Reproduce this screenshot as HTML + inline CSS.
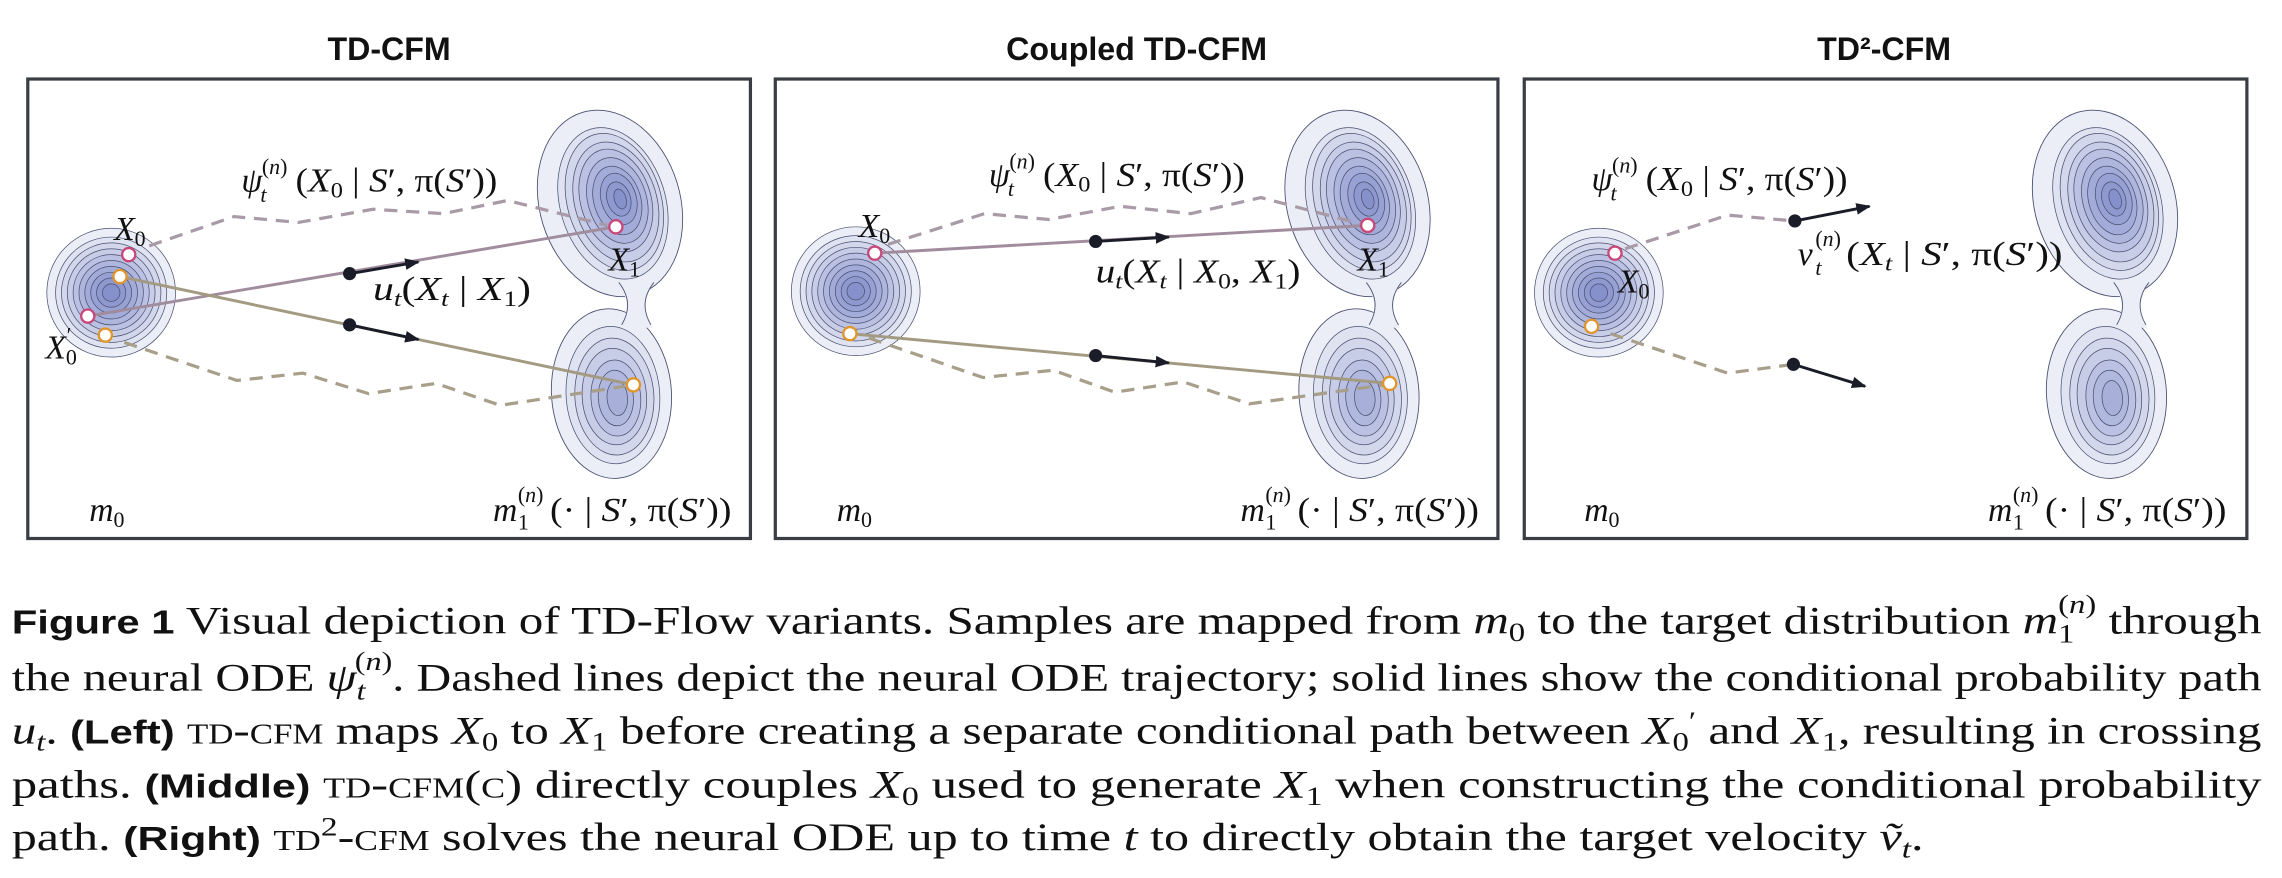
<!DOCTYPE html>
<html><head><meta charset="utf-8"><style>
html,body{margin:0;padding:0;background:#fff;}
svg{display:block}
.t{font-family:"Liberation Sans",sans-serif;font-weight:bold;font-size:22px;fill:#111;text-anchor:middle}
.m{font-family:"Liberation Serif",serif;font-size:23px;fill:#111}
.mi{font-style:italic}
.s{font-size:15px}
.c{font-family:"Liberation Serif",serif;font-size:27px;fill:#111}
.b{font-family:"Liberation Sans",sans-serif;font-weight:bold;font-size:23px}
.sc{font-variant:small-caps}
</style></head><body>
<svg width="2282" height="878" viewBox="0 0 1560 600" preserveAspectRatio="none" xmlns="http://www.w3.org/2000/svg">
<defs>
<marker id="ah" viewBox="0 0 10 10" refX="9" refY="5" markerWidth="5" markerHeight="5" orient="auto" markerUnits="strokeWidth"><path d="M0,1 L10,5 L0,9 Z" fill="#1a1d28"/></marker>
<g id="lb" stroke="#4a5070" stroke-width="0.5">
<circle r="44" fill="#eceef7"/><circle r="38" fill="#dfe2f0"/><circle r="34" fill="#d3d7ec"/><circle r="30" fill="#c7cce7"/><circle r="26" fill="#bbc1e2"/><circle r="22" fill="#afb6dd"/><circle r="18" fill="#a3abd8"/><circle r="14" fill="#98a1d3"/><circle r="10" fill="#8f98cf"/><circle r="6" fill="#8690cb"/>
</g>
<g id="rb" stroke="#4a5070" stroke-width="0.6">
<ellipse cx="417" cy="139" rx="48" ry="65" transform="rotate(-17 417 139)" fill="#eceef7"/>
<ellipse cx="418" cy="269" rx="41" ry="58" transform="rotate(-4 418 269)" fill="#eceef7"/>
<path d="M421,192 Q434,207 424,224 L446,224 Q436,207 448,192 Z" fill="#eceef7" stroke="none"/>
<path d="M423,193 Q434,207 425,222 M447,193 Q436,207 445,222" fill="none"/>
<g stroke-width="0.5">
<ellipse cx="419" cy="139" rx="36" ry="53" transform="rotate(-17 419 139)" fill="#dfe2f0"/>
<ellipse cx="420" cy="138" rx="32" ry="48" transform="rotate(-17 420 138)" fill="#d3d7ec"/>
<ellipse cx="421" cy="138" rx="28" ry="42" transform="rotate(-17 421 138)" fill="#c7cce7"/>
<ellipse cx="421" cy="137" rx="24" ry="36" transform="rotate(-17 421 137)" fill="#bbc1e2"/>
<ellipse cx="422" cy="137" rx="20" ry="30" transform="rotate(-17 422 137)" fill="#afb6dd"/>
<ellipse cx="422" cy="137" rx="16" ry="24" transform="rotate(-17 422 137)" fill="#a3abd8"/>
<ellipse cx="423" cy="136" rx="12" ry="18" transform="rotate(-17 423 136)" fill="#98a1d3"/>
<ellipse cx="423" cy="136" rx="8" ry="12" transform="rotate(-17 423 136)" fill="#8f98cf"/>
<ellipse cx="424" cy="136" rx="4" ry="7" transform="rotate(-17 424 136)" fill="#8690cb"/>
<ellipse cx="419" cy="270" rx="32" ry="47" transform="rotate(-4 419 270)" fill="#dfe2f0"/>
<ellipse cx="420" cy="271" rx="27" ry="40" transform="rotate(-4 420 271)" fill="#d3d7ec"/>
<ellipse cx="420" cy="271" rx="22" ry="33" transform="rotate(-4 420 271)" fill="#c7cce7"/>
<ellipse cx="421" cy="272" rx="17" ry="26" transform="rotate(-4 421 272)" fill="#bbc1e2"/>
<ellipse cx="421" cy="272" rx="12" ry="19" transform="rotate(-4 421 272)" fill="#b0b8de"/>
<ellipse cx="422" cy="272" rx="7" ry="12" transform="rotate(-4 422 272)" fill="#a8b0da"/>
</g>
</g>
<g id="psi">
<text class="m mi" x="165" y="131">ψ</text><text class="m s" x="179" y="119">(<tspan class="mi">n</tspan>)</text><text class="m s mi" x="178" y="138">t</text>
<text class="m" x="202" y="131" textLength="138" lengthAdjust="spacingAndGlyphs">(<tspan class="mi">X</tspan><tspan class="s" dy="4">0</tspan><tspan dy="-4"> | </tspan><tspan class="mi">S</tspan>′, π(<tspan class="mi">S</tspan>′))</text>
</g>
<g id="m1">
<text class="m mi" x="337" y="356">m</text><text class="m s" x="354" y="343">(<tspan class="mi">n</tspan>)</text><text class="m s" x="354" y="362">1</text>
<text class="m" x="376" y="356" textLength="124" lengthAdjust="spacingAndGlyphs">(· | <tspan class="mi">S</tspan>′, π(<tspan class="mi">S</tspan>′))</text>
</g>
</defs>

<text class="t" x="266" y="41">TD-CFM</text>
<text class="t" x="777" y="41">Coupled TD-CFM</text>
<text class="t" x="1288" y="41">TD²-CFM</text>

<g fill="#fff" stroke="#3a3d44" stroke-width="2.2">
<rect x="19" y="54" width="494" height="314"/>
<rect x="530" y="54" width="494" height="314"/>
<rect x="1042" y="54" width="494" height="314"/>
</g>

<!-- Panel 1 -->
<use href="#lb" transform="translate(76,200)"/>
<use href="#rb"/>
<polyline points="102,168 160,148 204,152 255,143 303,146 347,137 415,154" fill="none" stroke="#a89aa6" stroke-width="2.2" stroke-dasharray="9 6"/>
<polyline points="85,234 162,260 207,255 252,269 298,262 342,277 427,264" fill="none" stroke="#a89f8a" stroke-width="2.2" stroke-dasharray="9 6"/>
<line x1="60" y1="216" x2="421" y2="155" stroke="#a08c9c" stroke-width="2"/>
<line x1="82" y1="189" x2="433" y2="263" stroke="#a39a82" stroke-width="2"/>
<circle cx="239" cy="187" r="4.5" fill="#1a1d28"/><line x1="239" y1="187" x2="286" y2="179" stroke="#1a1d28" stroke-width="2" marker-end="url(#ah)"/>
<circle cx="239" cy="222" r="4.5" fill="#1a1d28"/><line x1="239" y1="222" x2="286" y2="232" stroke="#1a1d28" stroke-width="2" marker-end="url(#ah)"/>
<g fill="#fff" stroke-width="1.6">
<circle cx="88" cy="174" r="4.5" stroke="#c9487a"/><circle cx="82" cy="189" r="4.5" stroke="#e0962a"/>
<circle cx="60" cy="216" r="4.5" stroke="#c9487a"/><circle cx="72" cy="229" r="4.5" stroke="#e0962a"/>
<circle cx="421" cy="155" r="4.5" stroke="#c9487a"/><circle cx="433" cy="263" r="4.5" stroke="#e0962a"/>
</g>
<use href="#psi"/>
<text class="m" x="78" y="164"><tspan class="mi">X</tspan><tspan class="s" dy="4">0</tspan></text>
<text class="m" x="416" y="185"><tspan class="mi">X</tspan><tspan class="s" dy="4">1</tspan></text>
<text class="m" x="31" y="245"><tspan class="mi">X</tspan><tspan class="s" dy="4">0</tspan><tspan class="s" dx="-7" dy="-15">′</tspan></text>
<text class="m" x="255" y="205" textLength="108" lengthAdjust="spacingAndGlyphs"><tspan class="mi">u</tspan><tspan class="s mi" dy="4">t</tspan><tspan dy="-4">(</tspan><tspan class="mi">X</tspan><tspan class="s mi" dy="4">t</tspan><tspan dy="-4"> | </tspan><tspan class="mi">X</tspan><tspan class="s" dy="4">1</tspan><tspan dy="-4">)</tspan></text>
<text class="m" x="61" y="356"><tspan class="mi">m</tspan><tspan class="s" dy="4">0</tspan></text>
<use href="#m1"/>

<!-- Panel 2 -->
<use href="#lb" transform="translate(585,199)"/>
<use href="#rb" transform="translate(511,0)"/>
<polyline points="607,167 673,146 717,150 766,141 814,146 862,135 930,153" fill="none" stroke="#a89aa6" stroke-width="2.2" stroke-dasharray="9 6"/>
<polyline points="594,231 672,258 720,253 762,268 809,261 854,276 946,263" fill="none" stroke="#a89f8a" stroke-width="2.2" stroke-dasharray="9 6"/>
<line x1="598" y1="173" x2="935" y2="154" stroke="#a08c9c" stroke-width="2"/>
<line x1="581" y1="228" x2="950" y2="262" stroke="#a39a82" stroke-width="2"/>
<circle cx="749" cy="165" r="4.5" fill="#1a1d28"/><line x1="749" y1="165" x2="799" y2="162" stroke="#1a1d28" stroke-width="2" marker-end="url(#ah)"/>
<circle cx="749" cy="243" r="4.5" fill="#1a1d28"/><line x1="749" y1="243" x2="799" y2="248" stroke="#1a1d28" stroke-width="2" marker-end="url(#ah)"/>
<g fill="#fff" stroke-width="1.6">
<circle cx="598" cy="173" r="4.5" stroke="#c9487a"/><circle cx="581" cy="228" r="4.5" stroke="#e0962a"/>
<circle cx="935" cy="154" r="4.5" stroke="#c9487a"/><circle cx="950" cy="262" r="4.5" stroke="#e0962a"/>
</g>
<use href="#psi" transform="translate(511,-4)"/>
<text class="m" x="587" y="162"><tspan class="mi">X</tspan><tspan class="s" dy="4">0</tspan></text>
<text class="m" x="928" y="185"><tspan class="mi">X</tspan><tspan class="s" dy="4">1</tspan></text>
<text class="m" x="749" y="193" textLength="140" lengthAdjust="spacingAndGlyphs"><tspan class="mi">u</tspan><tspan class="s mi" dy="4">t</tspan><tspan dy="-4">(</tspan><tspan class="mi">X</tspan><tspan class="s mi" dy="4">t</tspan><tspan dy="-4"> | </tspan><tspan class="mi">X</tspan><tspan class="s" dy="4">0</tspan><tspan dy="-4">, </tspan><tspan class="mi">X</tspan><tspan class="s" dy="4">1</tspan><tspan dy="-4">)</tspan></text>
<text class="m" x="572" y="356"><tspan class="mi">m</tspan><tspan class="s" dy="4">0</tspan></text>
<use href="#m1" transform="translate(511,0)"/>

<!-- Panel 3 -->
<use href="#lb" transform="translate(1093,200)"/>
<use href="#rb" transform="translate(1022,0)"/>
<polyline points="1111,170 1181,147 1227,151" fill="none" stroke="#a89aa6" stroke-width="2.2" stroke-dasharray="9 6"/>
<polyline points="1101,228 1181,255 1226,249" fill="none" stroke="#a89f8a" stroke-width="2.2" stroke-dasharray="9 6"/>
<circle cx="1227" cy="151" r="4.5" fill="#1a1d28"/><line x1="1227" y1="151" x2="1278" y2="141" stroke="#1a1d28" stroke-width="2" marker-end="url(#ah)"/>
<circle cx="1226" cy="249" r="4.5" fill="#1a1d28"/><line x1="1226" y1="249" x2="1275" y2="264" stroke="#1a1d28" stroke-width="2" marker-end="url(#ah)"/>
<g fill="#fff" stroke-width="1.6">
<circle cx="1104" cy="173" r="4.5" stroke="#c9487a"/><circle cx="1088" cy="223" r="4.5" stroke="#e0962a"/>
</g>
<use href="#psi" transform="translate(923,-1)"/>
<text class="m" x="1106" y="200"><tspan class="mi">X</tspan><tspan class="s" dy="4">0</tspan></text>
<text class="m mi" x="1229" y="181">v</text><text class="m s" x="1241" y="168">(<tspan class="mi">n</tspan>)</text><text class="m s mi" x="1241" y="188">t</text>
<text class="m" x="1262" y="181" textLength="148" lengthAdjust="spacingAndGlyphs">(<tspan class="mi">X</tspan><tspan class="s mi" dy="4">t</tspan><tspan dy="-4"> | </tspan><tspan class="mi">S</tspan>′, π(<tspan class="mi">S</tspan>′))</text>
<text class="m" x="1083" y="356"><tspan class="mi">m</tspan><tspan class="s" dy="4">0</tspan></text>
<use href="#m1" transform="translate(1022,0)"/>

<!-- Caption -->
<text class="c" x="8" y="433" textLength="1538" lengthAdjust="spacingAndGlyphs"><tspan class="b">Figure 1</tspan>  Visual depiction of TD-Flow variants. Samples are mapped from <tspan class="mi">m</tspan><tspan dy="5" font-size="18">0</tspan><tspan dy="-5"> to the target distribution </tspan><tspan class="mi">m</tspan><tspan font-size="18" dy="6">1</tspan><tspan font-size="18" dx="-9" dy="-20">(<tspan class="mi">n</tspan>)</tspan><tspan dy="14"> through</tspan></text>
<text class="c" x="8" y="472" textLength="1538" lengthAdjust="spacingAndGlyphs">the neural ODE <tspan class="mi">ψ</tspan><tspan font-size="18" class="mi" dy="6">t</tspan><tspan font-size="18" dx="-6" dy="-20">(<tspan class="mi">n</tspan>)</tspan><tspan dy="14">. Dashed lines depict the neural ODE trajectory; solid lines show the conditional probability path</tspan></text>
<text class="c" x="8" y="508" textLength="1538" lengthAdjust="spacingAndGlyphs"><tspan class="mi">u</tspan><tspan font-size="18" class="mi" dy="5">t</tspan><tspan dy="-5">. </tspan><tspan class="b">(Left)</tspan> <tspan class="sc">td-cfm</tspan> maps <tspan class="mi">X</tspan><tspan font-size="18" dy="5">0</tspan><tspan dy="-5"> to </tspan><tspan class="mi">X</tspan><tspan font-size="18" dy="5">1</tspan><tspan dy="-5"> before creating a separate conditional path between </tspan><tspan class="mi">X</tspan><tspan font-size="18" dy="5">0</tspan><tspan font-size="18" dy="-14">′</tspan><tspan dy="9"> and </tspan><tspan class="mi">X</tspan><tspan font-size="18" dy="5">1</tspan><tspan dy="-5">, resulting in crossing</tspan></text>
<text class="c" x="8" y="545" textLength="1538" lengthAdjust="spacingAndGlyphs">paths. <tspan class="b">(Middle)</tspan> <tspan class="sc">td-cfm</tspan>(<tspan class="sc">c</tspan>) directly couples <tspan class="mi">X</tspan><tspan font-size="18" dy="5">0</tspan><tspan dy="-5"> used to generate </tspan><tspan class="mi">X</tspan><tspan font-size="18" dy="5">1</tspan><tspan dy="-5"> when constructing the conditional probability</tspan></text>
<text class="c" x="8" y="581" textLength="1307" lengthAdjust="spacingAndGlyphs">path. <tspan class="b">(Right)</tspan> <tspan class="sc">td</tspan><tspan font-size="18" dy="-10">2</tspan><tspan dy="10" class="sc">-cfm</tspan> solves the neural ODE up to time <tspan class="mi">t</tspan> to directly obtain the target velocity <tspan class="mi">ṽ</tspan><tspan font-size="18" class="mi" dy="5">t</tspan><tspan dy="-5">.</tspan></text>
</svg>
</body></html>
